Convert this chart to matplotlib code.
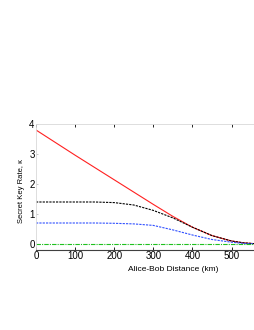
import numpy as np
import matplotlib
matplotlib.use("Agg")
import matplotlib.pyplot as plt

plt.rcParams['font.family'] = ['Liberation Sans', 'DejaVu Sans']

# distances (km) and key rates
dist = [0, 50, 100, 150, 200, 250, 300, 350, 400, 450, 500, 530, 560]
rate_red = [3.8, 3.38, 2.96, 2.55, 2.14, 1.73, 1.32, 0.92, 0.56, 0.28, 0.1, 0.04, 0.01]
rate_black = [1.4, 1.4, 1.4, 1.4, 1.38, 1.3, 1.12, 0.87, 0.56, 0.28, 0.1, 0.04, 0.01]
rate_blue = [0.7, 0.7, 0.7, 0.7, 0.69, 0.67, 0.62, 0.47, 0.3, 0.15, 0.06, 0.02, 0.005]
rate_green = [0, 0, 0, 0, 0, 0, 0, 0, 0, 0, 0, 0, 0]

xticks = [0, 100, 200, 300, 400, 500]
yticks = [0, 1, 2, 3, 4]

fig = plt.figure(figsize=(2.55, 3.3), dpi=100)
ax = fig.add_axes([36 / 255, 1 - 250 / 330, 219 / 255, 126 / 330])

ax.plot(dist, rate_red, color='#ff2020', lw=0.8)
ax.plot(dist, rate_black, color='black', lw=0.8, ls=(0, (2, 1)))
ax.plot(dist, rate_blue, color='#3050ff', lw=0.8, ls=(0, (2, 1)))
ax.plot(dist, rate_green, color='#20c020', lw=0.8, ls=(0, (4, 1, 1, 1)))

ax.set_xlim(0, 560)
ax.set_ylim(-0.2, 4)
ax.set_xticks(xticks)
ax.set_yticks(yticks)
ax.tick_params(labelsize=7, length=2, width=0.6, pad=1, top=True, direction='in')
ax.tick_params(axis='y', color='#c0c0c0', length=1.5)

for side in ['top', 'left', 'right']:
    ax.spines[side].set_color('#d8d8d8')
    ax.spines[side].set_linewidth(0.6)
ax.spines['right'].set_visible(False)
ax.spines['bottom'].set_color('#404040')
ax.spines['bottom'].set_linewidth(0.8)

ax.set_xlabel('Alice-Bob Distance (km)', fontsize=6)
ax.set_ylabel('Secret Key Rate, κ', fontsize=5.5)
ax.xaxis.set_label_coords(0.625, -0.125)
ax.yaxis.set_label_coords(-0.05, 0.468)

fig.savefig('out.png', dpi=100)
